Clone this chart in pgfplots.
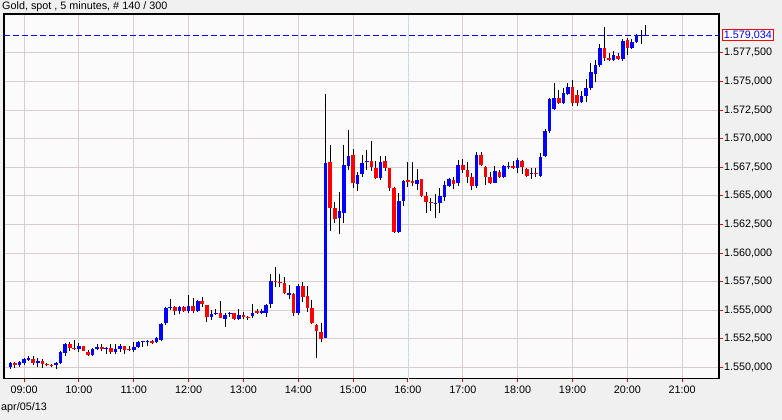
\documentclass[border=0pt]{standalone}
\usepackage{pgfplots}
\pgfplotsset{compat=1.18}
\usepackage{pgfplotstable}
\usepackage{fontspec}
\setmainfont{Liberation Sans}
\definecolor{bgGray}{RGB}{240,240,240}
\definecolor{plotBg}{RGB}{251,251,251}
\definecolor{gridC}{RGB}{218,205,205}
\definecolor{gridCyan}{RGB}{185,232,240}
\definecolor{candleBlue}{RGB}{0,0,255}
\definecolor{candleRed}{RGB}{255,0,0}

\pgfplotstableread{
t O H L C
0 1550.01 1550.45 1549.90 1550.36
1 1550.36 1550.45 1549.93 1550.25
2 1550.22 1550.57 1550.07 1550.51
3 1550.42 1550.80 1550.22 1550.71
4 1550.66 1550.98 1550.57 1550.86
5 1550.74 1551.01 1550.25 1550.42
6 1550.42 1550.86 1550.01 1550.57
7 1550.57 1550.71 1549.99 1550.34
8 1550.31 1550.42 1550.10 1550.22
9 1550.22 1550.31 1550.01 1550.13
10 1550.25 1550.48 1549.84 1550.42
11 1550.36 1551.44 1550.28 1551.38
12 1551.30 1552.17 1551.03 1552.06
13 1552.08 1552.26 1551.44 1551.73
14 1551.71 1552.43 1551.53 1551.62
15 1551.62 1552.11 1551.38 1551.91
16 1551.88 1551.88 1551.44 1551.47
17 1551.38 1551.53 1551.03 1551.09
18 1551.09 1551.73 1551.01 1551.65
19 1551.62 1552.03 1551.53 1551.82
20 1551.82 1552.03 1551.47 1551.62
21 1551.65 1551.82 1551.21 1551.73
22 1551.73 1552.03 1551.21 1551.38
23 1551.38 1552.03 1551.21 1551.65
24 1551.62 1552.03 1551.33 1551.91
25 1551.91 1551.91 1551.15 1551.56
26 1551.65 1551.91 1551.47 1551.56
27 1551.56 1552.23 1551.33 1551.79
28 1551.82 1552.32 1551.73 1552.23
29 1552.23 1552.35 1551.82 1552.32
30 1552.26 1552.40 1551.91 1552.35
31 1552.35 1552.40 1552.03 1552.17
32 1552.20 1552.64 1552.11 1552.55
33 1552.40 1553.86 1552.35 1553.80
34 1553.86 1555.26 1553.72 1555.17
35 1555.17 1555.96 1555.03 1555.26
36 1555.32 1555.38 1554.59 1554.97
37 1554.97 1555.38 1554.68 1555.26
38 1555.26 1555.38 1554.85 1554.97
39 1554.97 1556.34 1554.74 1555.38
40 1555.38 1556.05 1554.74 1554.97
41 1554.97 1555.90 1554.88 1555.84
42 1555.82 1556.14 1555.32 1555.53
43 1555.47 1555.47 1553.95 1554.45
44 1554.45 1555.03 1554.15 1554.68
45 1554.68 1555.12 1554.59 1554.80
46 1554.80 1555.82 1554.30 1554.36
47 1554.24 1554.80 1553.57 1554.59
48 1554.65 1554.88 1554.45 1554.80
49 1554.74 1554.80 1554.15 1554.24
50 1554.24 1555.12 1554.15 1554.59
51 1554.59 1554.82 1554.21 1554.45
52 1554.45 1554.50 1554.15 1554.36
53 1554.53 1555.55 1554.30 1554.74
54 1554.90 1555.12 1554.68 1554.80
55 1554.80 1555.12 1554.68 1554.90
56 1554.80 1555.55 1554.45 1555.47
57 1555.52 1558.15 1555.23 1557.56
58 1557.60 1558.82 1557.07 1557.51
59 1557.48 1558.18 1557.01 1557.36
60 1557.39 1557.94 1556.40 1556.49
61 1556.34 1557.24 1555.96 1556.49
62 1556.40 1556.49 1554.50 1554.80
63 1554.80 1557.27 1554.59 1557.16
64 1557.16 1557.45 1555.76 1556.20
65 1556.25 1557.13 1554.88 1555.17
66 1555.20 1555.90 1553.80 1553.86
67 1553.72 1553.80 1550.86 1553.22
68 1553.10 1553.92 1552.26 1552.52
69 1552.60 1573.91 1552.55 1567.85
70 1567.99 1569.45 1561.96 1563.97
71 1563.97 1564.49 1562.66 1563.01
72 1563.09 1565.37 1561.67 1563.68
73 1563.53 1569.45 1562.60 1567.70
74 1567.64 1570.76 1567.26 1568.49
75 1568.58 1569.07 1565.66 1566.15
76 1566.04 1567.12 1565.45 1566.83
77 1566.91 1568.58 1566.68 1567.85
78 1567.96 1569.01 1567.26 1568.08
79 1568.05 1569.80 1567.20 1567.53
80 1567.41 1568.05 1566.45 1566.54
81 1566.54 1568.49 1566.39 1567.99
82 1568.05 1568.49 1567.20 1567.47
83 1567.47 1567.47 1565.43 1565.72
84 1565.72 1565.80 1561.78 1561.84
85 1561.84 1565.23 1561.78 1564.58
86 1564.58 1566.39 1564.12 1566.33
87 1566.42 1567.99 1565.80 1566.24
88 1566.30 1567.99 1565.87 1566.10
89 1566.04 1567.33 1565.52 1566.42
90 1566.45 1566.45 1564.93 1564.99
91 1564.99 1565.37 1563.53 1564.49
92 1564.47 1564.79 1563.68 1564.38
93 1564.34 1565.17 1563.09 1564.42
94 1564.38 1565.72 1563.53 1564.99
95 1564.93 1566.30 1564.58 1565.95
96 1565.87 1566.54 1565.80 1566.48
97 1566.39 1566.63 1565.58 1566.04
98 1566.10 1568.14 1565.89 1567.70
99 1567.70 1568.20 1566.98 1567.26
100 1567.26 1567.99 1566.10 1566.68
101 1566.63 1566.98 1565.52 1565.89
102 1565.89 1568.81 1565.66 1568.58
103 1568.58 1568.81 1567.61 1567.70
104 1567.53 1567.61 1565.95 1566.68
105 1566.63 1567.12 1566.04 1566.15
106 1566.15 1567.61 1566.10 1567.18
107 1567.12 1567.26 1566.54 1566.63
108 1566.63 1567.70 1566.54 1567.61
109 1567.55 1567.99 1567.35 1567.62
110 1567.61 1568.08 1567.33 1567.47
111 1567.47 1568.29 1566.98 1568.14
112 1568.05 1568.14 1566.89 1567.55
113 1567.33 1567.41 1566.63 1566.77
114 1566.89 1567.41 1566.50 1567.03
115 1567.03 1567.41 1566.63 1566.89
116 1566.74 1568.72 1566.63 1568.43
117 1568.49 1570.82 1568.43 1570.70
118 1570.70 1573.53 1570.52 1573.47
119 1572.60 1574.90 1572.51 1573.58
120 1573.58 1574.26 1573.03 1573.15
121 1573.15 1574.41 1573.03 1574.02
122 1573.91 1574.84 1573.82 1574.55
123 1574.49 1575.13 1572.86 1573.15
124 1573.82 1574.26 1572.86 1573.15
125 1573.23 1574.20 1573.15 1573.73
126 1573.73 1575.19 1573.23 1574.43
127 1574.43 1576.64 1574.26 1575.80
128 1575.66 1576.88 1574.93 1576.44
129 1576.44 1578.28 1576.29 1577.93
130 1577.93 1579.74 1576.82 1577.08
131 1577.08 1577.47 1576.82 1576.88
132 1576.88 1577.67 1576.79 1577.34
133 1577.23 1577.47 1576.88 1576.99
134 1576.99 1578.69 1576.82 1578.57
135 1578.63 1578.78 1577.32 1577.90
136 1577.95 1578.69 1577.81 1578.43
137 1578.48 1579.15 1578.39 1579.06
138 1578.98 1579.50 1578.28 1579.06
139 1578.99 1579.94 1578.95 1579.034
}\gold

\begin{document}
\begin{tikzpicture}
\fill[bgGray] (0pt,0pt) rectangle (782pt,420pt);
\begin{axis}[
  at={(4pt,41.3pt)}, anchor=south west,
  scale only axis, width=715pt, height=364.7pt,
  xmin=-1.38, xmax=155.05, ymin=1549.02, ymax=1580.90,
  axis line style={black, line width=1.2pt},
  axis background/.style={fill=plotBg},
  xtick={3,15,27,39,51,63,75,87,99,111,123,135,147},
  xticklabels={09:00,10:00,11:00,12:00,13:00,14:00,15:00,16:00,17:00,18:00,19:00,20:00,21:00},
  ytick={1550,1552.5,1555,1557.5,1560,1562.5,1565,1567.5,1570,1572.5,1575,1577.5},
  yticklabels={{1.550,000},{1.552,500},{1.555,000},{1.557,500},{1.560,000},{1.562,500},{1.565,000},{1.567,500},{1.570,000},{1.572,500},{1.575,000},{1.577,500}},
  extra y ticks={1579.034}, extra y tick labels={},
  extra y tick style={grid=major, major tick length=0pt,
    major grid style={draw=candleBlue, line width=1pt, dash pattern=on 6pt off 3pt}},
  extra x ticks={87}, extra x tick labels={},
  extra x tick style={grid=major, major grid style={gridCyan, line width=0.9pt, dash pattern=on 3pt off 2pt}},
  xtick pos=bottom, ytick pos=right, yticklabel pos=right,
  tick align=outside, major tick length=3.5pt,
  tick style={candleRed, line width=1pt},
  xticklabel style={font=\fontsize{10.8}{12}\selectfont, text=black},
  yticklabel style={font=\fontsize{10.8}{12}\selectfont, text=black, anchor=west, inner sep=1.5pt},
  grid=major, grid style={gridC, line width=0.9pt},
]
\addplot[draw=none, mark=none, forget plot, error bars/.cd, y dir=plus, y explicit, error mark=none,
  error bar style={draw=black, solid, line width=1pt}]
  table[x=t, y=L, y error expr=\thisrow{H}-\thisrow{L}] {\gold};
\addplot[draw=none, mark=none, forget plot, restrict expr to domain={\thisrow{C}-\thisrow{O}}{0:100},
  error bars/.cd, y dir=plus, y explicit, error mark=none,
  error bar style={draw=candleBlue, solid, line width=3.6pt}]
  table[x=t, y=O, y error expr=\thisrow{C}-\thisrow{O}] {\gold};
\addplot[draw=none, mark=none, forget plot, restrict expr to domain={\thisrow{O}-\thisrow{C}}{0:100},
  error bars/.cd, y dir=plus, y explicit, error mark=none,
  error bar style={draw=candleRed, solid, line width=3.6pt}]
  table[x=t, y=C, y error expr=\thisrow{O}-\thisrow{C}] {\gold};
\coordinate (pl) at (axis cs:155.05,1579.034);
\end{axis}
\node[draw=candleRed, fill=white, text=candleBlue, line width=0.8pt, inner xsep=1.5pt, inner ysep=1pt,
  anchor=west, font=\fontsize{10.8}{12}\selectfont] at ([xshift=3pt]pl) {1.579,034};
\node[anchor=west, inner sep=0pt, font=\fontsize{10.8}{12}\selectfont] at (2pt,413pt) {Gold, spot , 5 minutes, \# 140 / 300};
\node[anchor=west, inner sep=0pt, font=\fontsize{10.8}{12}\selectfont] at (1pt,12pt) {apr/05/13};
\end{tikzpicture}
\end{document}
